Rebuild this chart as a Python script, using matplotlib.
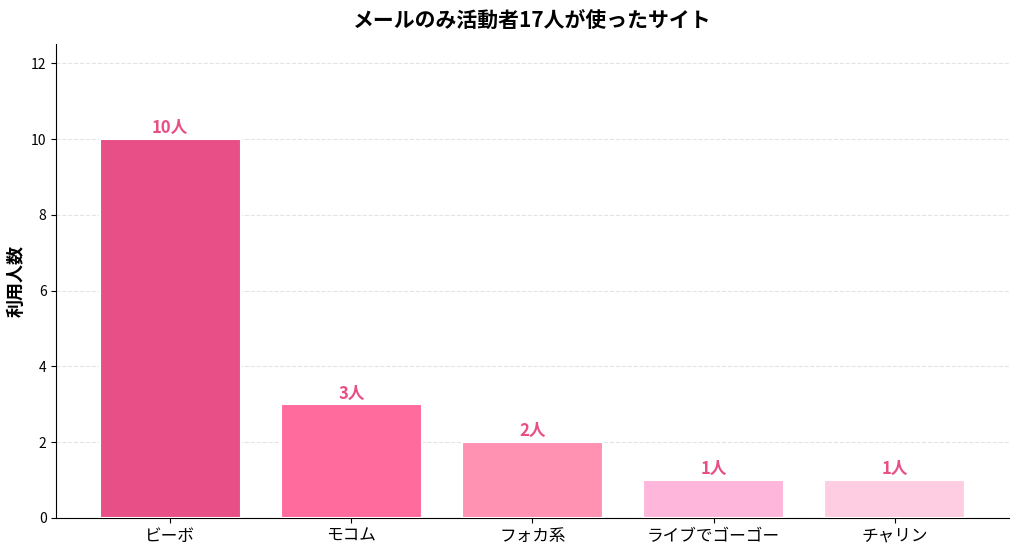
import matplotlib
matplotlib.use("Agg")
import matplotlib.pyplot as plt

plt.rcParams['font.family'] = ['Noto Sans CJK JP', 'DejaVu Sans']

categories = ["ビーボ", "モコム", "フォカ系", "ライブでゴーゴー", "チャリン"]
values = [10, 3, 2, 1, 1]
colors = ["#E84F86", "#FF6B9C", "#FF92B2", "#FFB6DB", "#FFCDE1"]

fig, ax = plt.subplots(figsize=(10.24, 5.54), dpi=100)
bars = ax.bar(categories, values, color=colors, width=0.78, edgecolor="white", linewidth=1.5, zorder=3)
for b, v in zip(bars, values):
    ax.text(b.get_x() + b.get_width()/2, v + 0.05, f"{v}人", ha="center", va="bottom",
            color="#E84F86", fontsize=12, fontweight="bold")
ax.set_ylim(0, 12.5)
ax.set_yticks(range(0, 13, 2))
ax.set_ylabel("利用人数", fontsize=13, fontweight="bold")
ax.set_title("メールのみ活動者17人が使ったサイト", fontsize=15, fontweight="bold", pad=12)
ax.grid(axis="y", linestyle="--", color="#dddddd", alpha=0.8, zorder=0)
ax.spines["top"].set_visible(False)
ax.spines["right"].set_visible(False)
ax.tick_params(axis="x", labelsize=12)
ax.tick_params(axis="y", labelsize=10)
fig.subplots_adjust(left=0.055, right=0.985, top=0.92, bottom=0.065)
fig.savefig("out.png")
